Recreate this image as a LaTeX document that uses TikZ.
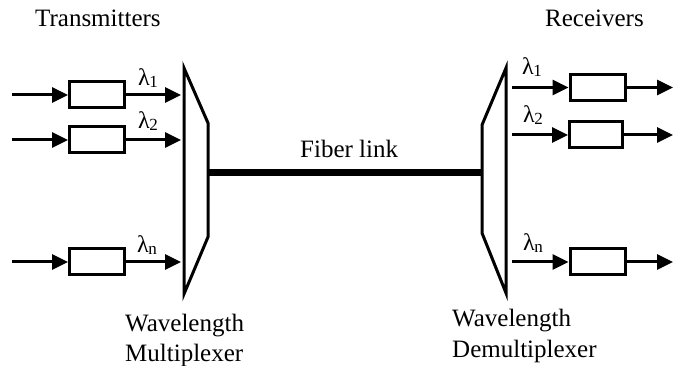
\documentclass[tikz,border=0pt]{standalone}
\usepackage{fontspec}
\setmainfont{Liberation Serif}
\usetikzlibrary{arrows.meta}
% wavelength label: lambda with a subscript index
\newcommand{\lamlab}[1]{\fontsize{24}{26}\selectfont λ\kern-0.5pt\raisebox{-1.5pt}{\fontsize{17}{18}\selectfont #1}}
\begin{document}
\begin{tikzpicture}[x=1pt,y=-1pt,
  every node/.style={font=\fontsize{25}{30}\selectfont},
  chanbox/.style={draw,line width=3pt,minimum width=55pt,minimum height=26pt,inner sep=0pt},
  sig/.style={line width=3pt,-{Triangle[length=16pt,width=15pt]}},
  lab/.style={anchor=base west,inner sep=0pt},
  lamnode/.style={anchor=base west,inner sep=0pt}]
\useasboundingbox (0,0) rectangle (673,366);

% transmitter side
\node[lab] (txtitle) at (35,27) {Transmitters};
\node[chanbox] (t1) at (97,95) {};
\node[chanbox] (t2) at (97,140) {};
\node[chanbox] (tn) at (97,262) {};
\coordinate (ti1) at (12,95);
\coordinate (ti2) at (12,140);
\coordinate (tin) at (12,262);
\coordinate (to1) at (181,95);
\coordinate (to2) at (181,140);
\coordinate (ton) at (181,262);
\draw[sig] (ti1) -- (t1.west);
\draw[sig] (ti2) -- (t2.west);
\draw[sig] (tin) -- (tn.west);
\draw[sig] (t1.east) -- (to1);
\draw[sig] (t2.east) -- (to2);
\draw[sig] (tn.east) -- (ton);
\node[lamnode] (tl1) at (138,86) {\lamlab{1}};
\node[lamnode] (tl2) at (138,129) {\lamlab{2}};
\node[lamnode] (tln) at (137,253) {\lamlab{n}};

% multiplexer
\draw[line width=3pt,line join=miter] (184,68) -- (208,123) -- (208,237) -- (184,294) -- cycle;
\coordinate (muxout) at (208,173);
\node[lab] (muxlab) at (125,332) {Wavelength};
\node[lab] (muxlab2) at (125,362) {Multiplexer};

% fiber
\coordinate (demuxin) at (482,173);
\draw[line width=7pt] (muxout) -- (demuxin);
\node[lab] (fiber) at (300,158) {Fiber link};

% demultiplexer
\draw[line width=3pt,line join=miter] (506,68) -- (482,125) -- (482,233) -- (506,293) -- cycle;
\node[lab] (dmxlab) at (452,327) {Wavelength};
\node[lab] (dmxlab2) at (452,358) {Demultiplexer};

% receiver side
\node[lab] (rxtitle) at (545,27) {Receivers};
\node[chanbox] (r1) at (597.5,87.5) {};
\node[chanbox,minimum width=53pt] (r2) at (596,135) {};
\node[chanbox] (rn) at (597.5,262) {};
\coordinate (ri1) at (512,87.5);
\coordinate (ri2) at (512,135);
\coordinate (rin) at (512,262);
\coordinate (ro1) at (673,87.5);
\coordinate (ro2) at (673,135);
\coordinate (ron) at (673,262);
\draw[sig] (ri1) -- (r1.west);
\draw[sig] (ri2) -- (r2.west);
\draw[sig] (rin) -- (rn.west);
\draw[sig] (r1.east) -- (ro1);
\draw[sig] (r2.east) -- (ro2);
\draw[sig] (rn.east) -- (ron);
\node[lamnode] (rl1) at (522,75) {\lamlab{1}};
\node[lamnode] (rl2) at (523,123) {\lamlab{2}};
\node[lamnode] (rln) at (523,251) {\lamlab{n}};
\end{tikzpicture}
\end{document}
